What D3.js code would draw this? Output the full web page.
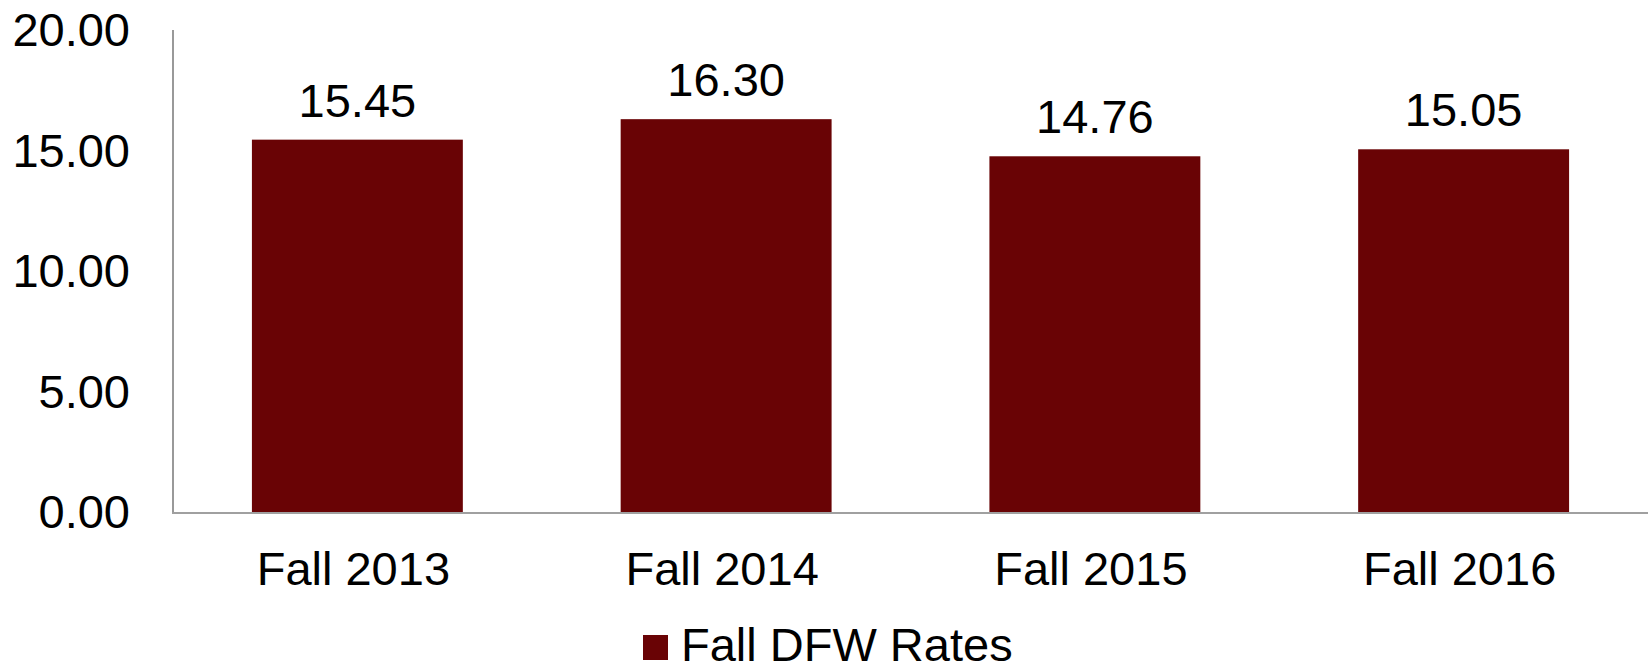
<!DOCTYPE html>
<html>
<head>
<meta charset="utf-8">
<script src="https://cdn.jsdelivr.net/npm/d3@7"></script>
<style>
  body { margin: 0; background: #fff; }
  svg { display: block; font-family: "Liberation Sans", Arial, sans-serif; }
</style>
</head>
<body>
<svg width="1648" height="667"></svg>
<script>
// chart data
const categories = ['Fall 2013', 'Fall 2014', 'Fall 2015', 'Fall 2016']
const dfwRates = [15.45, 16.30, 14.76, 15.05]
const yTicks = [0, 5, 10, 15, 20]
const seriesName = 'Fall DFW Rates'

function draw() {
  const svg = d3.select('svg')
  const barColor = '#690305'
  const fontSize = '47px'
  const left = 173, right = 1648, top = 30, bottom = 512

  const x = d3.scaleBand()
    .domain(categories)
    .range([left, right])
    .paddingInner(0.428)
    .paddingOuter(0.214)

  const y = d3.scaleLinear()
    .domain([0, 20])
    .range([bottom, top])

  // y tick labels (no tick marks)
  svg.append('g')
    .selectAll('text')
    .data(yTicks)
    .join('text')
    .attr('x', 130)
    .attr('y', d => y(d))
    .attr('dy', '0.35em')
    .attr('text-anchor', 'end')
    .style('font-size', fontSize)
    .style('fill', '#000')
    .text(d => d3.format('.2f')(d))

  // bars
  svg.append('g')
    .selectAll('rect')
    .data(dfwRates)
    .join('rect')
    .attr('x', (d, i) => x(categories[i]))
    .attr('y', d => y(d))
    .attr('width', x.bandwidth())
    .attr('height', d => y(0) - y(d))
    .style('fill', barColor)

  // value labels
  svg.append('g')
    .selectAll('text')
    .data(dfwRates)
    .join('text')
    .attr('x', (d, i) => x(categories[i]) + x.bandwidth() / 2)
    .attr('y', d => y(d) - 23)
    .attr('text-anchor', 'middle')
    .style('font-size', fontSize)
    .style('fill', '#000')
    .text(d => d3.format('.2f')(d))

  // axis lines
  svg.append('line')
    .attr('x1', left).attr('x2', left)
    .attr('y1', top).attr('y2', bottom)
    .style('stroke', '#999').style('stroke-width', 2)
  svg.append('line')
    .attr('x1', left - 1).attr('x2', right)
    .attr('y1', bottom + 1).attr('y2', bottom + 1)
    .style('stroke', '#a0a0a0').style('stroke-width', 2)

  // category labels
  svg.append('g')
    .selectAll('text')
    .data(categories)
    .join('text')
    .attr('x', d => x(d) + x.bandwidth() / 2 - 4)
    .attr('y', 585)
    .attr('text-anchor', 'middle')
    .style('font-size', fontSize)
    .style('fill', '#000')
    .text(d => d)

  // legend
  const legend = svg.append('g')
  legend.append('rect')
    .attr('x', 643).attr('y', 635)
    .attr('width', 25).attr('height', 25)
    .style('fill', barColor)
  legend.append('text')
    .attr('x', 681).attr('y', 661)
    .style('font-size', fontSize)
    .style('fill', '#000')
    .text(seriesName)
}

draw()
</script>
</body>
</html>
